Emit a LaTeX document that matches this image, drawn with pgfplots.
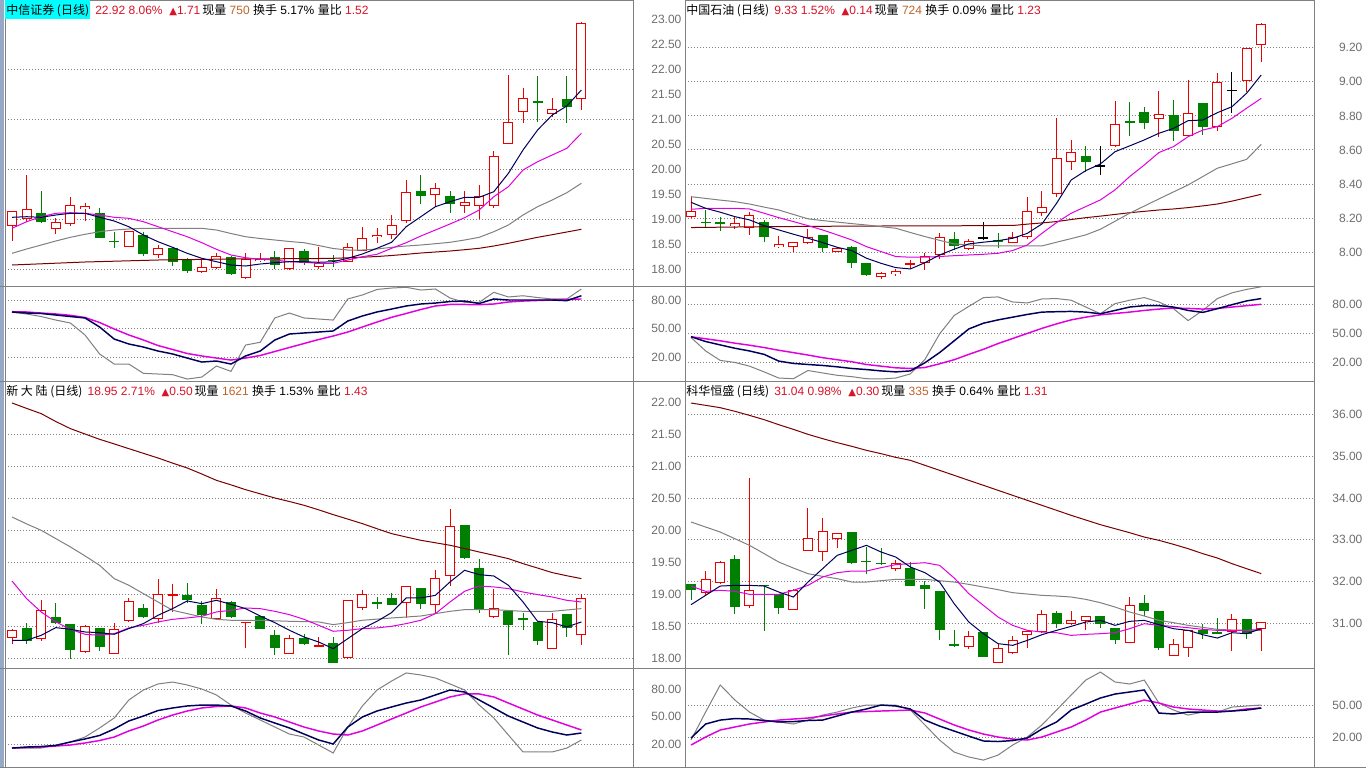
\documentclass[border=0pt]{standalone}
\usepackage{pgfplots}
\pgfplotsset{compat=1.18}
\usepackage{pgfplotstable}
\usepackage{fontspec}
\setmainfont{Liberation Sans}
\newfontfamily\cjk{Noto Sans CJK SC}
\newfontfamily\dv{DejaVu Sans}
\definecolor{kred}{RGB}{235,0,0}
\definecolor{kgreen}{RGB}{0,128,0}
\definecolor{cma5}{RGB}{0,0,90}
\definecolor{cma10}{RGB}{224,0,224}
\definecolor{cma20}{RGB}{128,128,128}
\definecolor{cma60}{RGB}{120,0,0}
\definecolor{gridc}{RGB}{128,128,128}
\definecolor{axc}{RGB}{128,128,128}
\definecolor{lblc}{RGB}{110,110,110}
\definecolor{tred}{RGB}{215,20,40}
\definecolor{tbrown}{RGB}{190,100,40}
\definecolor{selcyan}{RGB}{0,255,255}
\definecolor{winbar}{RGB}{150,170,200}

% ---------- 中信证券 ----------
\pgfplotstableread{
i T B H L t a b c d
0 19.166 18.866 19.17 18.56 1 19.034 18.814 18.314 18.080
1 19.194 18.994 19.88 18.946 1 19.046 18.946 18.400 18.092
2 19.126 18.946 19.56 18.926 2 19.034 19.046 18.480 18.104
3 18.934 18.794 19.026 18.70 1 19.080 19.114 18.560 18.116
4 19.274 18.894 19.434 18.866 1 19.114 19.126 18.634 18.128
5 19.26 19.194 19.326 18.966 1 19.114 19.114 18.694 18.140
6 19.126 18.626 19.214 18.62 2 19.034 19.080 18.746 18.148
7 18.56 18.55 18.746 18.414 2 18.960 19.034 18.780 18.156
8 18.766 18.446 18.77 18.44 1 18.846 19.014 18.800 18.164
9 18.68 18.294 18.746 18.266 2 18.680 18.946 18.814 18.172
10 18.414 18.286 18.48 18.226 1 18.546 18.846 18.814 18.180
11 18.414 18.146 18.446 18.06 2 18.434 18.746 18.814 18.184
12 18.18 17.96 18.226 17.926 2 18.314 18.646 18.814 18.188
13 18.04 17.946 18.194 17.926 1 18.214 18.526 18.814 18.192
14 18.266 18.026 18.314 17.994 1 18.146 18.394 18.780 18.196
15 18.246 17.894 18.266 17.874 2 18.080 18.280 18.710 18.200
16 18.20 17.826 18.314 17.80 1 18.060 18.226 18.646 18.202
17 18.206 18.16 18.314 18.146 1 18.100 18.194 18.610 18.204
18 18.234 18.074 18.366 17.994 2 18.126 18.180 18.580 18.204
19 18.414 18.006 18.414 17.98 1 18.146 18.146 18.550 18.206
20 18.366 18.114 18.394 18.074 2 18.146 18.134 18.526 18.206
21 18.114 18.046 18.434 17.994 1 18.134 18.114 18.470 18.210
22 18.19 18.17 18.28 18.046 2 18.146 18.114 18.410 18.214
23 18.434 18.134 18.514 18.134 1 18.214 18.180 18.380 18.224
24 18.614 18.36 18.834 18.36 1 18.300 18.246 18.380 18.236
25 18.68 18.634 18.814 18.514 1 18.414 18.294 18.400 18.250
26 18.874 18.674 19.08 18.594 1 18.534 18.414 18.434 18.270
27 19.534 18.966 19.78 18.926 1 18.846 18.526 18.460 18.294
28 19.56 19.454 19.88 19.294 2 19.046 18.660 18.480 18.320
29 19.614 19.474 19.726 19.246 1 19.246 18.780 18.506 18.340
30 19.454 19.294 19.56 19.126 2 19.346 18.900 18.534 18.360
31 19.34 19.254 19.56 19.126 1 19.434 19.026 18.580 18.386
32 19.454 19.254 19.68 18.994 1 19.434 19.180 18.634 18.414
33 20.26 19.254 20.36 19.214 1 19.546 19.446 18.746 18.460
34 20.934 20.494 21.88 20.494 1 19.914 19.646 18.880 18.514
35 21.414 21.146 21.614 20.914 1 20.380 19.980 19.080 18.574
36 21.366 21.314 21.86 20.934 2 20.780 20.146 19.246 18.634
37 21.20 21.094 21.414 21.046 1 21.080 20.280 19.380 18.686
38 21.394 21.234 21.86 20.914 2 21.260 20.414 19.526 18.740
39 22.914 21.40 22.934 21.18 1 21.580 20.714 19.714 18.794
}\tA
\pgfplotstableread{
i K D J
0 67.4 67.7 67.1
1 66.3 67.4 65.3
2 65.8 66.3 62.6
3 64.2 65.3 58.9
4 62.6 63.9 55.8
5 61.1 61.6 43.2
6 51.6 56.3 23.2
7 38.9 49.5 12.6
8 33.7 43.2 12.6
9 30.5 37.9 2.8
10 26.3 32.1 2.1
11 23.2 27.9 1.4
12 18.9 23.7 -3.2
13 14.7 21.1 -1.1
14 15.8 18.9 10.5
15 12.6 16.8 4.9
16 21.1 18.9 32.6
17 26.3 21.6 35.5
18 37.9 25.8 61.1
19 44.2 30.0 66.3
20 45.3 34.2 61.1
21 46.3 38.4 60.0
22 47.4 42.1 58.9
23 57.9 46.3 81.1
24 63.2 51.6 85.3
25 67.4 56.8 91.1
26 70.5 61.8 92.6
27 73.7 65.8 93.4
28 75.8 70.0 90.5
29 76.8 73.7 91.6
30 78.4 75.3 82.1
31 78.9 75.3 77.6
32 76.3 75.1 77.6
33 81.1 75.8 88.1
34 80.0 77.9 83.2
35 80.0 78.9 84.5
36 80.0 79.5 82.6
37 80.0 80.0 81.1
38 79.3 80.5 81.1
39 84.5 81.1 91.6
}\kA

% ---------- 中国石油 ----------
\pgfplotstableread{
i T B H L t a b c d
0 8.242 8.209 8.330 8.199 1 8.293 8.252 8.326 8.145
1 8.178 8.174 8.248 8.151 2 8.258 8.258 8.316 8.146
2 8.180 8.164 8.209 8.125 2 8.235 8.258 8.306 8.147
3 8.170 8.154 8.209 8.135 1 8.209 8.258 8.297 8.148
4 8.219 8.145 8.239 8.102 1 8.190 8.254 8.283 8.149
5 8.176 8.092 8.190 8.063 2 8.156 8.229 8.265 8.150
6 8.049 8.029 8.096 8.023 1 8.131 8.203 8.248 8.151
7 8.059 8.033 8.059 8.004 1 8.106 8.180 8.222 8.151
8 8.088 8.057 8.135 8.049 1 8.082 8.156 8.196 8.152
9 8.102 8.023 8.102 8.004 2 8.057 8.131 8.186 8.152
10 8.023 8.004 8.033 8.000 1 8.029 8.102 8.177 8.153
11 8.031 7.939 8.037 7.910 2 8.010 8.072 8.168 8.153
12 7.935 7.867 7.935 7.861 2 7.965 8.033 8.160 8.154
13 7.881 7.857 7.887 7.842 1 7.935 8.004 8.150 8.154
14 7.891 7.871 7.900 7.861 1 7.910 7.975 8.141 8.155
15 7.935 7.924 7.955 7.900 1 7.902 7.971 8.116 8.155
16 7.978 7.935 7.994 7.896 1 7.939 7.971 8.092 8.155
17 8.088 7.984 8.111 7.959 1 7.984 7.975 8.070 8.155
18 8.076 8.039 8.117 8.014 2 8.018 7.980 8.049 8.155
19 8.068 8.018 8.078 8.014 1 8.049 7.984 8.043 8.156
20 8.087 8.085 8.180 8.072 3 8.059 7.988 8.037 8.156
21 8.069 8.067 8.115 8.023 2 8.068 7.994 8.037 8.157
22 8.088 8.057 8.121 8.053 1 8.082 8.010 8.037 8.157
23 8.244 8.088 8.323 8.076 1 8.111 8.043 8.037 8.165
24 8.268 8.229 8.362 8.213 1 8.166 8.111 8.037 8.172
25 8.551 8.340 8.786 8.323 1 8.287 8.174 8.059 8.180
26 8.590 8.528 8.659 8.483 1 8.424 8.229 8.080 8.192
27 8.565 8.532 8.624 8.473 2 8.479 8.268 8.102 8.203
28 8.509 8.507 8.624 8.454 3 8.518 8.307 8.135 8.212
29 8.751 8.624 8.888 8.620 1 8.590 8.366 8.182 8.222
30 8.772 8.762 8.880 8.684 2 8.624 8.444 8.229 8.232
31 8.821 8.757 8.850 8.721 2 8.659 8.512 8.271 8.240
32 8.809 8.780 8.946 8.674 1 8.698 8.585 8.313 8.248
33 8.805 8.714 8.893 8.655 2 8.727 8.620 8.354 8.254
34 8.819 8.682 9.011 8.678 1 8.772 8.678 8.395 8.262
35 8.874 8.737 8.874 8.688 2 8.776 8.717 8.444 8.272
36 9.001 8.733 9.054 8.714 1 8.819 8.737 8.493 8.283
37 8.953 8.951 9.060 8.815 3 8.854 8.786 8.519 8.300
38 9.196 9.005 9.196 8.942 1 8.933 8.845 8.545 8.320
39 9.337 9.216 9.347 9.118 1 9.040 8.903 8.633 8.340
}\tB
\pgfplotstableread{
i K D J
0 46.7 46.7 46.0
1 41.8 44.6 32.1
2 38.3 42.5 22.4
3 34.9 40.1 20.3
4 32.1 38.0 16.5
5 28.6 35.6 10.6
6 21.7 32.8 4.3
7 19.3 30.4 3.6
8 18.2 27.9 12.0
9 17.2 25.2 9.5
10 15.8 23.1 7.1
11 14.1 21.0 5.7
12 13.0 18.2 3.6
13 11.6 16.5 3.3
14 10.6 14.8 4.3
15 11.6 14.1 8.5
16 20.0 15.1 23.4
17 30.4 18.9 49.5
18 42.5 23.1 68.5
19 54.7 28.6 77.9
20 60.6 33.8 86.9
21 64.0 39.7 87.6
22 66.8 44.9 82.4
23 69.6 50.1 81.4
24 72.0 55.3 85.5
25 72.4 59.9 85.9
26 72.7 64.0 84.2
27 72.0 66.8 77.2
28 70.3 69.2 70.3
29 73.7 70.6 80.7
30 77.2 72.0 84.2
31 78.6 73.7 86.9
32 78.6 75.1 82.4
33 77.2 76.2 75.5
34 73.7 75.8 63.3
35 71.7 75.1 73.7
36 75.5 75.8 85.9
37 79.6 77.2 91.8
38 83.5 78.6 95.3
39 85.9 80.0 98.0
}\kB

% ---------- 新大陆 ----------
\pgfplotstableread{
i T B H L t a b c d
0 18.438 18.323 18.464 18.229 1 18.281 19.208 20.208 21.990
1 18.474 18.266 18.557 18.219 2 18.281 18.932 20.100 21.905
2 18.750 18.307 18.906 18.266 1 18.359 18.724 20.000 21.823
3 18.646 18.557 18.870 18.542 2 18.479 18.568 19.870 21.700
4 18.531 18.135 18.531 17.984 2 18.453 18.453 19.740 21.589
5 18.500 18.099 18.516 18.089 1 18.411 18.375 19.600 21.505
6 18.474 18.177 18.474 18.109 2 18.401 18.359 19.453 21.422
7 18.464 18.073 18.557 18.073 1 18.375 18.385 19.245 21.350
8 18.896 18.578 18.943 18.568 1 18.464 18.474 19.141 21.276
9 18.786 18.646 18.854 18.630 2 18.542 18.516 19.010 21.203
10 19.000 18.609 19.234 18.557 1 18.672 18.568 18.880 21.130
11 19.000 18.984 19.167 18.724 1 18.776 18.609 18.750 21.050
12 18.995 18.917 19.177 18.865 2 18.896 18.630 18.698 20.974
13 18.839 18.682 18.891 18.542 2 18.854 18.656 18.646 20.880
14 18.948 18.609 19.078 18.609 1 18.906 18.724 18.609 20.781
15 18.880 18.646 18.891 18.630 2 18.844 18.750 18.594 20.710
16 18.568 18.552 18.568 18.167 1 18.776 18.786 18.594 20.635
17 18.656 18.464 18.656 18.464 2 18.661 18.776 18.594 20.570
18 18.359 18.167 18.438 18.047 2 18.557 18.734 18.586 20.505
19 18.318 18.063 18.359 18.063 1 18.438 18.682 18.578 20.450
20 18.318 18.219 18.385 18.203 2 18.333 18.609 18.573 20.391
21 18.203 18.188 18.333 18.188 1 18.255 18.516 18.568 20.320
22 18.240 17.932 18.333 17.932 2 18.151 18.422 18.526 20.245
23 18.906 18.010 18.906 17.995 1 18.307 18.438 18.557 20.175
24 19.010 18.792 19.063 18.750 1 18.464 18.464 18.594 20.104
25 18.870 18.859 18.958 18.776 2 18.578 18.474 18.612 20.025
26 18.943 18.839 19.026 18.828 2 18.714 18.500 18.630 19.948
27 19.125 18.865 19.125 18.630 1 18.943 18.542 18.645 19.895
28 19.099 18.854 19.099 18.776 2 18.943 18.594 18.661 19.844
29 19.260 18.828 19.375 18.698 1 18.984 18.698 18.698 19.805
30 20.068 19.281 20.339 19.130 1 19.193 18.880 18.734 19.766
31 20.089 19.573 20.089 19.557 2 19.375 19.047 18.760 19.715
32 19.411 18.750 19.547 18.714 2 19.307 19.130 18.760 19.661
33 18.792 18.646 19.078 18.630 1 19.286 19.115 18.760 19.610
34 18.740 18.526 18.740 18.047 2 19.141 19.089 18.747 19.557
35 18.620 18.609 18.714 18.438 2 18.880 19.036 18.734 19.479
36 18.568 18.266 18.568 18.203 2 18.578 18.995 18.734 19.410
37 18.609 18.151 18.708 18.151 1 18.557 18.958 18.734 19.339
38 18.688 18.474 18.688 18.333 2 18.490 18.906 18.755 19.290
39 18.948 18.370 19.010 18.214 1 18.568 18.880 18.776 19.245
}\tC
\pgfplotstableread{
i K D J
0 15.6 15.6 15.6
1 16.7 16.2 15.6
2 17.3 16.7 15.6
3 18.4 17.8 18.9
4 22.2 18.9 22.2
5 25.5 21.1 27.6
6 29.3 23.8 37.5
7 36.4 27.6 48.4
8 45.1 34.2 68.0
9 50.5 39.6 78.9
10 56.5 46.2 85.5
11 59.3 51.6 87.6
12 61.5 56.0 84.4
13 62.5 59.3 80.0
14 62.5 60.9 73.5
15 61.5 61.5 62.5
16 56.0 59.3 53.8
17 48.4 53.8 46.2
18 42.9 49.5 38.5
19 37.5 44.0 30.9
20 30.9 38.5 27.6
21 24.4 34.2 18.9
22 20.0 30.9 10.2
23 38.5 29.8 38.5
24 49.5 34.2 61.5
25 56.0 40.7 78.9
26 60.4 47.3 88.7
27 64.7 53.8 97.5
28 68.0 60.4 95.3
29 73.5 65.8 92.0
30 78.9 71.3 85.5
31 76.7 74.6 78.9
32 68.0 74.6 62.5
33 59.3 71.3 48.4
34 50.5 64.7 29.8
35 44.0 58.2 11.3
36 37.5 51.6 11.3
37 33.1 46.2 11.3
38 29.8 40.7 15.6
39 32.0 35.3 24.4
}\kC

% ---------- 科华恒盛 ----------
\pgfplotstableread{
i T B H L t a b c d
0 31.931 31.803 31.931 31.548 2 31.444 31.891 33.425 36.276
1 32.067 31.732 32.243 31.652 1 31.668 31.764 33.305 36.220
2 32.466 31.971 32.482 31.947 1 31.891 31.788 33.185 36.164
3 32.530 31.388 32.642 31.212 2 31.907 31.764 33.025 36.077
4 31.788 31.404 34.479 31.372 1 31.907 31.692 32.866 35.980
5 31.911 31.903 31.911 30.805 2 31.891 31.692 32.667 35.877
6 31.692 31.372 31.692 31.228 2 31.748 31.692 32.466 35.757
7 31.788 31.308 31.812 31.308 1 31.628 31.788 32.323 35.645
8 33.042 32.722 33.760 32.722 1 31.987 31.907 32.187 35.525
9 33.209 32.706 33.521 32.490 1 32.307 32.107 32.123 35.422
10 33.161 33.010 33.161 32.810 1 32.626 32.211 32.067 35.326
11 33.185 32.450 33.185 32.411 2 32.746 32.251 31.987 35.238
12 32.490 32.482 32.826 32.187 2 32.866 32.251 31.987 35.142
13 32.443 32.435 32.810 32.387 2 32.706 32.331 32.019 35.062
14 32.443 32.291 32.506 32.243 1 32.586 32.403 32.051 34.974
15 32.323 31.883 32.466 31.883 2 32.347 32.427 32.051 34.903
16 31.907 31.827 32.003 31.348 2 32.211 32.450 32.051 34.783
17 31.772 30.845 31.772 30.605 2 31.987 32.387 32.019 34.663
18 30.486 30.478 30.829 30.430 2 31.468 32.083 31.987 34.543
19 30.693 30.430 30.805 30.390 1 31.029 31.708 31.931 34.423
20 30.789 30.190 30.789 30.190 2 30.749 31.428 31.867 34.304
21 30.406 30.054 30.510 30.054 1 30.510 31.149 31.804 34.184
22 30.589 30.286 30.693 30.270 1 30.470 30.949 31.732 34.064
23 30.805 30.709 30.829 30.406 1 30.589 30.829 31.700 33.944
24 31.212 30.789 31.308 30.773 1 30.725 30.789 31.668 33.825
25 31.244 30.989 31.292 30.893 2 30.829 30.773 31.652 33.705
26 31.069 30.989 31.292 30.949 1 30.925 30.709 31.628 33.585
27 31.165 31.053 31.165 30.829 1 31.029 30.733 31.572 33.473
28 31.165 30.973 31.165 30.893 2 31.069 30.749 31.492 33.361
29 30.885 30.605 30.885 30.510 2 30.949 30.773 31.388 33.265
30 31.428 30.526 31.628 30.526 1 31.045 30.869 31.269 33.169
31 31.484 31.292 31.668 31.173 2 31.069 30.989 31.173 33.065
32 31.292 30.414 31.292 30.350 2 30.965 30.949 31.069 32.986
33 30.510 30.206 30.629 30.206 1 30.869 30.925 31.013 32.890
34 30.829 30.414 30.829 30.190 1 30.829 30.893 30.949 32.786
35 30.829 30.733 30.973 30.629 2 30.725 30.853 30.901 32.667
36 30.777 30.769 31.133 30.733 2 30.645 30.829 30.853 32.562
37 31.093 30.789 31.212 30.326 1 30.773 30.829 30.837 32.427
38 31.093 30.749 31.093 30.613 2 30.749 30.829 30.829 32.307
39 31.029 30.853 31.029 30.326 1 30.869 30.853 30.829 32.188
}\tD
\pgfplotstableread{
i K D J
0 19.1 12.5 17.2
1 32.2 20.0 43.4
2 35.9 26.6 68.8
3 37.3 29.4 54.7
4 36.9 32.2 43.4
5 35.5 34.1 35.9
6 34.1 35.9 34.1
7 34.5 36.9 32.2
8 35.5 37.8 35.9
9 35.9 39.7 40.6
10 39.7 41.6 43.4
11 43.4 43.4 47.2
12 46.3 43.9 50.0
13 50.0 44.4 50.0
14 49.1 44.8 50.0
15 46.3 45.3 45.3
16 35.9 42.5 31.3
17 30.3 36.9 17.2
18 25.6 31.3 5.9
19 20.9 26.6 1.3
20 16.3 22.8 -1.6
21 15.8 20.0 3.1
22 16.7 18.1 12.5
23 19.1 17.2 20.0
24 27.5 20.0 31.3
25 34.1 24.7 45.3
26 45.3 29.4 59.4
27 50.9 35.9 73.4
28 56.6 43.4 80.9
29 60.3 47.2 71.6
30 62.2 50.9 69.7
31 64.1 54.7 73.4
32 42.5 51.9 51.9
33 41.6 48.1 45.3
34 43.4 46.3 40.6
35 43.4 45.3 43.4
36 43.4 44.4 43.4
37 44.4 44.4 48.1
38 45.3 46.3 49.1
39 47.2 47.2 50.0
}\kD

\pgfplotsset{
  panel/.style={
    scale only axis, anchor=north west,
    axis line style={draw=axc, line width=0.75pt},
    xtick=\empty,
    major tick length=0pt, minor tick length=0pt,
    yticklabel pos=right,
    yticklabel style={anchor=east, xshift=36.5pt, inner sep=0pt,
      font=\fontsize{9}{10}\selectfont, text=lblc},
    extra y tick style={grid=major},
    major grid style={draw=gridc, line width=0.75pt, dash pattern=on 0.75pt off 1.5pt},
  },
  leftp/.style={panel, width=471pt, xmin=-0.4795, xmax=42.534},
  rightp/.style={panel, width=471.75pt, xmin=-0.41, xmax=42.61},
}

\newcommand\candles[2]{%
  \addplot[forget plot, draw=none, mark=none, restrict expr to domain={\thisrow{t}}{1:1},
    error bars/.cd, y dir=both, y explicit, error mark=none,
    error bar style={draw=kred, line width=0.75pt}]
    table[x=i, y expr={(\thisrow{H}+\thisrow{L})/2}, y error expr={(\thisrow{H}-\thisrow{L})/2}] {#1};
  \addplot[forget plot, draw=none, mark=none, restrict expr to domain={\thisrow{t}}{2:2},
    error bars/.cd, y dir=both, y explicit, error mark=none,
    error bar style={draw=kgreen, line width=0.75pt}]
    table[x=i, y expr={(\thisrow{H}+\thisrow{L})/2}, y error expr={(\thisrow{H}-\thisrow{L})/2}] {#1};
  \addplot[forget plot, draw=none, mark=none, restrict expr to domain={\thisrow{t}}{3:3},
    error bars/.cd, y dir=both, y explicit, error mark=none,
    error bar style={draw=black, line width=0.75pt}]
    table[x=i, y expr={(\thisrow{H}+\thisrow{L})/2}, y error expr={(\thisrow{H}-\thisrow{L})/2}] {#1};
  \addplot[forget plot, draw=none, mark=none, restrict expr to domain={\thisrow{t}}{1:1},
    error bars/.cd, y dir=both, y explicit, error mark=none,
    error bar style={draw=kred, line width=7.5pt}]
    table[x=i, y expr={(\thisrow{T}+\thisrow{B})/2}, y error expr={max((\thisrow{T}-\thisrow{B})/2,0.5*#2)}] {#1};
  \addplot[forget plot, draw=none, mark=none, restrict expr to domain={\thisrow{t}}{2:2},
    error bars/.cd, y dir=both, y explicit, error mark=none,
    error bar style={draw=kgreen, line width=7.5pt}]
    table[x=i, y expr={(\thisrow{T}+\thisrow{B})/2}, y error expr={max((\thisrow{T}-\thisrow{B})/2,0.5*#2)}] {#1};
  \addplot[forget plot, draw=none, mark=none, restrict expr to domain={\thisrow{t}}{3:3},
    error bars/.cd, y dir=both, y explicit, error mark=none,
    error bar style={draw=black, line width=7.5pt}]
    table[x=i, y expr={(\thisrow{T}+\thisrow{B})/2}, y error expr={max((\thisrow{T}-\thisrow{B})/2,0.5*#2)}] {#1};
  \addplot[forget plot, draw=none, mark=none, restrict expr to domain={\thisrow{t}}{1:1},
    error bars/.cd, y dir=both, y explicit, error mark=none,
    error bar style={draw=white, line width=6pt}]
    table[x=i, y expr={(\thisrow{T}+\thisrow{B})/2}, y error expr={max((\thisrow{T}-\thisrow{B})/2-#2,0)}] {#1};
  \addplot[forget plot, cma60, line width=0.75pt, mark=none] table[x=i, y=d] {#1};
  \addplot[forget plot, cma20, line width=0.75pt, mark=none] table[x=i, y=c] {#1};
  \addplot[forget plot, cma10, line width=0.75pt, mark=none] table[x=i, y=b] {#1};
  \addplot[forget plot, cma5, line width=0.75pt, mark=none] table[x=i, y=a] {#1};
}
\newcommand\kdj[1]{%
  \addplot[forget plot, cma20, line width=0.75pt, mark=none] table[x=i, y=J] {#1};
  \addplot[forget plot, cma10, line width=1.1pt, mark=none] table[x=i, y=D] {#1};
  \addplot[forget plot, cma5, line width=1.1pt, mark=none] table[x=i, y=K] {#1};
}
\newcommand\tri{{\dv\fontsize{7.5}{8}\selectfont ▲}}
\tikzset{ttl/.style={anchor=base west, inner sep=0pt, font=\fontsize{9}{10}\selectfont}}

\begin{document}
\begin{tikzpicture}
\fill[white] (0,0) rectangle (1024.5pt,-576pt);
\fill[winbar] (0,0) rectangle (3pt,-576pt);

% ===== top left =====
\begin{axis}[leftp, at={(3.75pt,0pt)}, height=214.5pt, ymin=17.66, ymax=23.38,
  ytick={18,18.5,19,19.5,20,20.5,21,21.5,22,22.5,23},
  yticklabels={18.00,18.50,19.00,19.50,20.00,20.50,21.00,21.50,22.00,22.50,23.00},
  extra y ticks={18,19,20,21,22}, extra y tick labels={}]
\candles{\tA}{0.02}
\end{axis}
\begin{axis}[leftp, at={(3.75pt,-214.5pt)}, height=71.25pt, ymin=-5.26, ymax=94.74,
  ytick={20,50,80}, yticklabels={20.00,50.00,80.00},
  extra y ticks={20,50,80}, extra y tick labels={}]
\kdj{\kA}
\end{axis}

% ===== top right =====
\begin{axis}[rightp, at={(513.75pt,0pt)}, height=214.5pt, ymin=7.802, ymax=9.480,
  ytick={8,8.2,8.4,8.6,8.8,9,9.2},
  yticklabels={8.00,8.20,8.40,8.60,8.80,9.00,9.20},
  extra y ticks={8,8.2,8.4,8.6,8.8,9,9.2}, extra y tick labels={}]
\candles{\tB}{0.005865}
\end{axis}
\begin{axis}[rightp, at={(513.75pt,-214.5pt)}, height=71.25pt, ymin=1.23, ymax=98.8,
  ytick={20,50,80}, yticklabels={20.00,50.00,80.00},
  extra y ticks={20,50,80}, extra y tick labels={}]
\kdj{\kB}
\end{axis}

% ===== bottom left =====
\begin{axis}[leftp, at={(3.75pt,-285.75pt)}, height=215.25pt, ymin=17.848, ymax=22.333,
  ytick={18,18.5,19,19.5,20,20.5,21,21.5,22},
  yticklabels={18.00,18.50,19.00,19.50,20.00,20.50,21.00,21.50,22.00},
  extra y ticks={18,18.5,19,19.5,20,20.5,21,21.5}, extra y tick labels={}]
\candles{\tC}{0.015625}
\end{axis}
\begin{axis}[leftp, at={(3.75pt,-501pt)}, height=74.25pt, ymin=-5.1, ymax=102.9,
  ytick={20,50,80}, yticklabels={20.00,50.00,80.00},
  extra y ticks={20,50,80}, extra y tick labels={}]
\kdj{\kC}
\end{axis}

% ===== bottom right =====
\begin{axis}[rightp, at={(513.75pt,-285.75pt)}, height=215.25pt, ymin=29.927, ymax=36.803,
  ytick={31,32,33,34,35,36},
  yticklabels={31.00,32.00,33.00,34.00,35.00,36.00},
  extra y ticks={31,32,33,34,35,36}, extra y tick labels={}]
\candles{\tD}{0.02396}
\end{axis}
\begin{axis}[rightp, at={(513.75pt,-501pt)}, height=74.25pt, ymin=-8.1, ymax=84.7,
  ytick={20,50}, yticklabels={20.00,50.00},
  extra y ticks={20,50}, extra y tick labels={}]
\kdj{\kD}
\end{axis}

% separators
\draw[axc, line width=0.75pt] (0,-214.5pt) -- (985.5pt,-214.5pt);
\draw[axc, line width=0.75pt] (0,-285.75pt) -- (985.5pt,-285.75pt);
\draw[axc, line width=0.75pt] (0,-501pt) -- (985.5pt,-501pt);
\draw[axc, line width=0.75pt] (0,-575.25pt) -- (1024.5pt,-575.25pt);

% titles
\node[ttl, fill=selcyan, inner xsep=0.75pt, text height=10.5pt, text depth=3.75pt] (a1) at (3.75pt,-10.5pt) {\cjk 中信证券 (日线)};
\node[ttl] at ([xshift=3.5pt]a1.base east)
 {\textcolor{tred}{22.92 8.06\%\hspace{5pt}\tri1.71}\hspace{1.5pt}{\cjk 现量} \textcolor{tbrown}{750} {\cjk 换手} 5.17\% {\cjk 量比} \textcolor{tred}{1.52}};
\node[ttl] (b1) at (514.5pt,-10.5pt) {\cjk 中国石油 (日线)};
\node[ttl] at ([xshift=3.5pt]b1.base east)
 {\textcolor{tred}{9.33 1.52\%\hspace{5pt}\tri0.14}\hspace{1.5pt}{\cjk 现量} \textcolor{tbrown}{724} {\cjk 换手} 0.09\% {\cjk 量比} \textcolor{tred}{1.23}};
\node[ttl] (c1) at (4.5pt,-296.25pt) {\cjk 新 大 陆 (日线)};
\node[ttl] at ([xshift=3.5pt]c1.base east)
 {\textcolor{tred}{18.95 2.71\%\hspace{5pt}\tri0.50}\hspace{1.5pt}{\cjk 现量} \textcolor{tbrown}{1621} {\cjk 换手} 1.53\% {\cjk 量比} \textcolor{tred}{1.43}};
\node[ttl] (d1) at (514.5pt,-296.25pt) {\cjk 科华恒盛 (日线)};
\node[ttl] at ([xshift=3.5pt]d1.base east)
 {\textcolor{tred}{31.04 0.98\%\hspace{5pt}\tri0.30}\hspace{1.5pt}{\cjk 现量} \textcolor{tbrown}{335} {\cjk 换手} 0.64\% {\cjk 量比} \textcolor{tred}{1.31}};

\pgfresetboundingbox
\useasboundingbox (0,0) rectangle (1024.5pt,-576pt);
\end{tikzpicture}
\end{document}
